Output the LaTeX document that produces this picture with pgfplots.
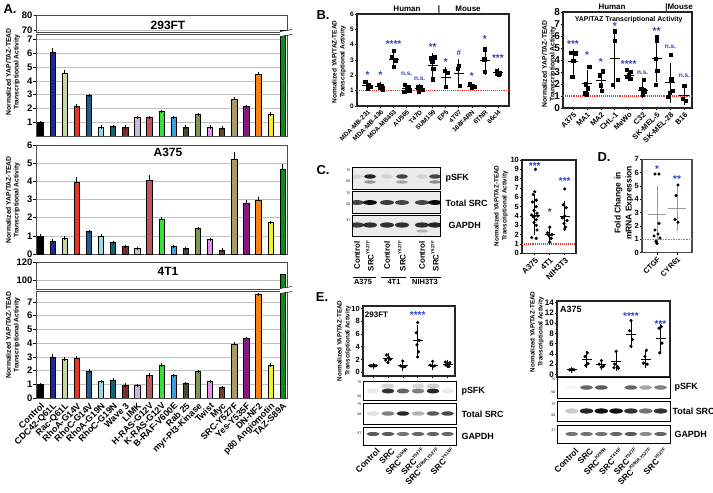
\documentclass[border=0pt]{standalone}
\usepackage{pgfplots}
\pgfplotsset{compat=1.18}
\usepackage{pgfplotstable}
\usepackage{fontspec}
\setmainfont{Liberation Sans}
\newcommand{\fs}[1]{\fontsize{#1}{#1}\selectfont}
\newcommand{\sps}[1]{\raisebox{0.55em}{\fs{4.5}#1}}
\definecolor{c0}{HTML}{000000}
\definecolor{c1}{HTML}{1A2A9C}
\definecolor{c2}{HTML}{C9D6A8}
\definecolor{c3}{HTML}{EE3322}
\definecolor{c4}{HTML}{1F5C96}
\definecolor{c5}{HTML}{98D8E8}
\definecolor{c6}{HTML}{0F6474}
\definecolor{c7}{HTML}{7A2B2B}
\definecolor{c8}{HTML}{C8B9D8}
\definecolor{c9}{HTML}{C25452}
\definecolor{c10}{HTML}{33E633}
\definecolor{c11}{HTML}{3FA0E0}
\definecolor{c12}{HTML}{4B4A32}
\definecolor{c13}{HTML}{7C9A4A}
\definecolor{c14}{HTML}{E890F0}
\definecolor{c15}{HTML}{6B4423}
\definecolor{c16}{HTML}{A99A6A}
\definecolor{c17}{HTML}{821A82}
\definecolor{c18}{HTML}{FA8214}
\definecolor{c19}{HTML}{F8F024}
\definecolor{c20}{HTML}{128A1A}
\definecolor{sblue}{HTML}{2B3CCB}
\definecolor{rdot}{HTML}{E8352B}
\definecolor{blotbg}{HTML}{EBEBEB}

\pgfplotstableread{
v1 e1 v2 e2 v3 e3
1.00 0 1.00 0 1.00 0
6.10 0.15 0.72 0 3.00 0.08
4.55 0.08 0.88 0 2.80 0.05
2.15 0.03 3.95 0.20 2.90 0.05
2.95 0 1.25 0 1.97 0
0.65 0 1.00 0 1.22 0
0.68 0 0.65 0 1.32 0
0.65 0 0.42 0 0.95 0
1.35 0 0.30 0 0.92 0
1.35 0 4.05 0.20 1.68 0
1.78 0 1.92 0.03 2.40 0
1.35 0 0.40 0 1.65 0
0.65 0 0.30 0 1.05 0
1.55 0 1.42 0 1.95 0
0.65 0 0.82 0 1.22 0
0.58 0 0.22 0 0.75 0
2.68 0.03 5.20 0.30 3.95 0
2.15 0 2.78 0.08 4.35 0
4.50 0.05 2.95 0.10 7.55 0
1.60 0 1.75 0 2.40 0
69.9 0.3 4.65 0.20 106 0.5
}\tabA

\pgfplotsset{
  Aax/.style={scale only axis, width=251bp, xmin=-0.36, xmax=20.36,
    axis line style={gray!60!black, line width=0.6pt},
    ymajorgrids, grid style={gray!50, line width=0.5pt},
    xtick=\empty, ytick pos=left, tick align=outside, major tick length=2.5bp,
    tick style={black, line width=0.5pt},
    yticklabel style={font=\bfseries\fs{9.5}, inner sep=1pt},
    /pgf/number format/assume math mode=true},
  Bar/.style={ybar, bar width=5.3bp, fill=#1, draw=black, line width=0.6pt},
  Sax/.style={scale only axis, axis line style={black!85, line width=1.1pt},
    tick align=outside, major tick length=2bp, xtick pos=bottom, ytick pos=left,
    tick style={black, line width=0.6pt}, clip=false,
    /pgf/number format/assume math mode=true},
  sq/.style={only marks, mark=square*, mark size=1.7bp, black},
  ci/.style={only marks, mark=*, mark size=1.4bp, black},
  mn/.style={only marks, mark=-, mark size=#1, black, mark options={line width=0.7pt},
    error bars/.cd, y dir=both, y explicit, error bar style={line width=0.7pt, black},
    error mark options={mark size=2.5bp, line width=0.7pt, black}},
  rline/.style={rdot, densely dotted, line width=1.1pt, forget plot},
}

\newcommand{\Abars}[1]{%
  \pgfplotsinvokeforeach{0,...,20}{%
    \addplot[Bar=c##1, error bars/.cd, y dir=plus, y explicit,
      error bar style={black, line width=0.5pt},
      error mark options={black, mark size=1.6bp, line width=0.5pt}]
      table[x expr=\coordindex, y=v#1, y error=e#1,
        restrict expr to domain={\coordindex}{##1:##1}] {\tabA};
  }%
}
\newcommand{\band}[5]{\fill[black, opacity=#3] (#1bp,-#2bp) ellipse (#4bp and #5bp);}
\newcommand{\stars}[3]{\node[text=sblue, font=\bfseries\fs{10}, inner sep=0pt] at (axis cs:#1,#2) {#3};}
\newcommand{\ns}[2]{\node[text=sblue, font=\bfseries\fs{6.5}, inner sep=0pt] at (axis cs:#1,#2) {n.s.};}
\newcommand{\brk}[1]{%
  \fill[white] (280bp,-#1bp+1.5bp) -- (292bp,-#1bp+3.5bp) -- (292bp,-#1bp-1.5bp) -- (280bp,-#1bp-3.5bp) -- cycle;
  \draw[line width=0.5pt] (280bp,-#1bp+1.5bp) -- (292bp,-#1bp+3.5bp);
  \draw[line width=0.5pt] (280bp,-#1bp-3.5bp) -- (292bp,-#1bp-1.5bp);}

\begin{document}
\begin{tikzpicture}
\path[use as bounding box] (0,0) rectangle (713bp,-493bp);

% ================= Panel A =================
\node[font=\bfseries\fs{13}] at (10bp,-9bp) {A.};
% 293FT
\begin{axis}[Aax, at={(36bp,-15bp)}, anchor=north west, height=17bp, ymin=69, ymax=80, ytick={70,80}]
\addplot[Bar=c20] coordinates {(20,69.9)};
\end{axis}
\begin{axis}[Aax, at={(36bp,-34bp)}, anchor=north west, height=102bp, ymin=0, ymax=7.39, ytick={1,...,7}]
\Abars{1}
\end{axis}
\brk{33}
\node[font=\bfseries\fs{12}] at (168bp,-25bp) {293FT};
\node[rotate=90, align=center, font=\bfseries\fontsize{6.8}{8}\selectfont] at (13bp,-72bp) {Normalized YAP/TAZ-TEAD\\Transcriptional Activity};
% A375
\begin{axis}[Aax, at={(36bp,-145bp)}, anchor=north west, height=109bp, ymin=0, ymax=6, ytick={0,...,6}]
\Abars{2}
\end{axis}
\node[font=\bfseries\fs{12}] at (168bp,-152bp) {A375};
\node[rotate=90, align=center, font=\bfseries\fontsize{6.8}{8}\selectfont] at (13bp,-200bp) {Normalized YAP/TAZ-TEAD\\Transcriptional Activity};
% 4T1
\begin{axis}[Aax, at={(36bp,-262bp)}, anchor=north west, height=27bp, ymin=90, ymax=120, ytick={100,120}]
\addplot[Bar=c20] coordinates {(20,106)};
\end{axis}
\begin{axis}[Aax, at={(36bp,-291bp)}, anchor=north west, height=107bp, ymin=0, ymax=7.8, ytick={0,...,7},
  xtick={0,...,20}, xtick style={draw=none},
  xticklabels={Control,CDC42-Q61L,Rac-Q61L,RhoA-G14V,RhoC-G14V,RhoA-G19N,RhoC-G19N,Wave 3,LIMK,H-RAS-G12V,K-RAS-G12V,B-RAF-V600E,Rab 25,myr-PI3-Kinase,Twist,Myc,SRC-Y527F,Yes-Y535F,DN-NF2,p80 Angiomotin,TAZ-S89A},
  xticklabel style={rotate=45, anchor=north east, font=\bfseries\fs{9}, inner sep=1pt}]
\Abars{3}
\end{axis}
\brk{290}
\node[font=\bfseries\fs{12}] at (168bp,-271bp) {4T1};
\node[rotate=90, align=center, font=\bfseries\fontsize{6.8}{8}\selectfont] at (13bp,-335bp) {Normalized YAP/TAZ-TEAD\\Transcriptional Activity};

% ================= Panel B =================
\node[font=\bfseries\fs{13}] at (323bp,-15bp) {B.};
\begin{axis}[Sax, at={(357bp,-14bp)}, anchor=north west, width=152bp, height=92bp,
  xmin=-0.8, xmax=10.85, ymin=0, ymax=6, ytick={0,...,6},
  xtick={0,...,10}, xticklabels={MDA-MB-231,MDA-MB-436,MDA-MB453,AU565,T47D,SUM159,EP5,4T07,168FARN,6TNR,66cl4},
  xticklabel style={rotate=45, anchor=north east, font=\bfseries\fs{6.5}, inner sep=1pt},
  yticklabel style={font=\bfseries\fs{6.5}, inner sep=1pt}]
\addplot[rline] coordinates {(-0.8,1) (10.85,1)};
\addplot[sq] coordinates {(-0.18,1.58) (0.05,1.38) (0.2,1.25) (0.0,1.17)
 (0.85,1.38) (1.1,1.3) (0.95,1.2) (1.15,1.1)
 (2.0,3.62) (1.85,3.18) (2.15,3.0) (2.0,2.57)
 (2.85,1.37) (3.15,1.25) (3.0,1.1) (2.8,0.95) (3.2,1.0)
 (3.85,1.22) (4.1,1.25) (4.0,1.12) (4.2,1.05) (3.95,0.95)
 (4.85,3.12) (5.15,3.18) (4.95,2.9) (5.05,2.45) (5.0,1.74)
 (5.9,2.31) (6.1,2.18) (6.0,1.26)
 (7.0,2.61) (6.9,2.45) (7.05,1.31)
 (7.85,1.44) (8.05,1.3) (8.2,1.26) (8.0,1.22)
 (9.0,3.7) (8.95,3.05) (9.0,2.24)
 (9.9,2.31) (10.1,2.14) (10.05,2.05) (9.95,2.1)};
\addplot[mn=5bp] coordinates {(0,1.35) +- (0,0.2) (1,1.25) +- (0,0.12) (2,3.05) +- (0,0.45)
 (3,1.15) +- (0,0.18) (4,1.12) +- (0,0.12) (5,2.65) +- (0,0.65) (6,1.85) +- (0,0.55)
 (7,2.13) +- (0,0.77) (8,1.3) +- (0,0.1) (9,2.95) +- (0,0.75) (10,2.17) +- (0,0.14)};
\stars{0}{2.0}{*}\stars{1}{2.0}{*}\stars{2}{4.05}{****}\ns{3}{2.1}\ns{4}{1.78}
\stars{5}{3.85}{**}\stars{6}{2.85}{*}\node[text=sblue, font=\bfseries\fs{8}] at (axis cs:7,3.45) {\#};
\stars{8}{1.95}{*}\stars{9}{4.38}{*}\stars{10}{3.1}{***}
\end{axis}
\node[rotate=90, align=center, font=\bfseries\fontsize{6.5}{8}\selectfont] at (339bp,-62bp) {Normalized YAP/TAZ-TEAD\\Transcriptional Activity};
\node[font=\bfseries\fs{8}] at (407bp,-9bp) {Human};
\node[font=\bfseries\fs{8}] at (439bp,-9bp) {|};
\node[font=\bfseries\fs{8}] at (468bp,-9bp) {Mouse};

\begin{axis}[Sax, at={(563bp,-12bp)}, anchor=north west, width=129bp, height=96bp,
  xmin=-0.72, xmax=8.55, ymin=0, ymax=8, ytick={0,...,8},
  xtick={0,...,8}, xticklabels={A375,MA1,MA2,CHL-1,MeWo,C32,SK-MEL-5,SK-MEL-28,B16},
  xticklabel style={rotate=45, anchor=north east, font=\bfseries\fs{7.5}, inner sep=1pt},
  yticklabel style={font=\bfseries\fs{10}, inner sep=1pt}]
\addplot[rline] coordinates {(-0.72,1) (8.55,1)};
\addplot[sq] coordinates {(-0.15,4.62) (0.05,4.62) (0.2,4.57) (0.0,3.92) (-0.05,2.6)
 (1.15,3.45) (0.9,2.0) (1.05,1.65) (0.85,1.25) (1.0,1.15)
 (2.15,3.08) (1.9,2.75) (2.0,1.9) (2.05,1.45)
 (3.0,6.4) (3.0,5.6) (3.2,2.35) (2.85,1.95)
 (3.85,3.2) (4.15,3.05) (4.0,2.75) (3.9,2.6) (4.1,2.45)
 (5.1,2.35) (4.9,1.6) (5.05,1.5) (5.15,1.4) (5.0,1.1)
 (6.0,5.9) (6.0,5.6) (5.95,4.1) (6.05,3.1) (5.95,1.95)
 (7.0,4.45) (7.05,2.4) (7.15,1.45) (6.95,1.3) (6.85,0.95)
 (8.0,1.85) (7.9,0.8) (8.1,0.6)};
\addplot[mn=5bp] coordinates {(0,3.85) +- (0,0.9) (1,2.05) +- (0,0.95) (2,2.3) +- (0,0.75)
 (3,4.1) +- (0,2.3) (4,2.75) +- (0,0.3) (5,1.5) +- (0,0.45) (6,4.1) +- (0,1.7)
 (7,2.1) +- (0,1.45) (8,1.07) +- (0,0.65)};
\stars{0}{5.35}{***}\stars{1}{4.4}{*}\stars{2}{3.8}{*}\stars{3}{6.8}{*}\stars{4}{3.62}{****}
\ns{5}{2.94}\stars{6}{6.37}{**}\ns{7}{5.08}\ns{8}{2.69}
\node[font=\bfseries\fs{7}] at (axis cs:4,7.35) {YAP/TAZ Transcriptional Activity};
\end{axis}
\node[rotate=90, align=center, font=\bfseries\fontsize{6.8}{8}\selectfont] at (549bp,-64bp) {Normalized YAP/TAZ-TEAD\\Transcriptional Activity};
\node[font=\bfseries\fs{8}] at (612bp,-7bp) {Human};
\node[font=\bfseries\fs{8}] at (679bp,-7bp) {|Mouse};

% ================= Panel C =================
\node[font=\bfseries\fs{13}] at (323bp,-170bp) {C.};
\foreach \ya/\yb in {167.7/189, 191.7/213, 215/236.7}{
  \draw[line width=1pt, fill=blotbg] (352bp,-\ya bp) rectangle (440bp,-\yb bp);}
\begin{scope}
\clip (352bp,-167.7bp) rectangle (440bp,-236.7bp);
\foreach \x/\o in {357/0.08, 370/0.85, 387/0.1, 402/0.7, 422/0.1, 435/0.7}{\band{\x}{176.5}{\o}{6}{2.2}}
\foreach \x/\o in {370/0.35, 402/0.3, 435/0.4}{\band{\x}{182}{\o}{6}{1.6}}
\foreach \x/\o in {357/0.7, 370/0.95, 387/0.75, 402/0.7, 422/0.7, 435/0.95}{\band{\x}{202.5}{\o}{7}{2.4}}
\foreach \x/\o in {357/0.75, 370/0.8, 387/0.8, 402/0.8, 422/0.8, 435/0.85}{\band{\x}{225}{\o}{7}{2.6}}
\band{422}{231}{0.25}{6}{1.5}
\end{scope}
\foreach \y/\t in {170/75, 181/50, 193/75, 204/50, 220/37}{
  \node[font=\fs{3.5}, anchor=east, inner sep=0.5pt] at (351bp,-\y bp) {\t};}
\node[font=\bfseries\fs{9}, anchor=west] at (442bp,-178bp) {pSFK};
\node[font=\bfseries\fs{9}, anchor=west] at (442bp,-203bp) {Total SRC};
\node[font=\bfseries\fs{9}, anchor=west] at (445bp,-225bp) {GAPDH};
\foreach \x/\t in {357/Control, 370/SRC\sps{Y527F}, 387/Control, 402/SRC\sps{Y527F}, 422/Control, 435/SRC\sps{Y527F}}{
  \node[rotate=90, anchor=east, font=\bfseries\fs{8}, inner sep=1pt] at (\x bp,-240bp) {\t};}
\draw[line width=0.6pt] (353bp,-277bp) -- (376bp,-277bp);
\draw[line width=0.6pt] (381bp,-277bp) -- (406bp,-277bp);
\draw[line width=0.6pt] (410bp,-277bp) -- (441bp,-277bp);
\node[font=\bfseries\fs{7.5}] at (363bp,-282bp) {A375};
\node[font=\bfseries\fs{7.5}] at (394bp,-282bp) {4T1};
\node[font=\bfseries\fs{7.5}] at (425bp,-282bp) {NIH3T3};

\begin{axis}[Sax, at={(522bp,-160bp)}, anchor=north west, width=54bp, height=93.3bp,
  xmin=-0.85, xmax=2.75, ymin=0, ymax=10, ytick={0,...,10},
  xtick={0,1,2}, xticklabels={A375,4T1,NIH3T3},
  xticklabel style={rotate=45, anchor=north east, font=\bfseries\fs{8}, inner sep=1pt},
  yticklabel style={font=\bfseries\fs{7.5}, inner sep=1pt}]
\addplot[rline] coordinates {(-0.85,1) (2.75,1)};
\addplot[ci] coordinates {(0.05,9.0) (0.0,6.6) (-0.1,6.3) (0.1,5.7) (-0.15,5.5) (0.1,5.0)
 (-0.05,4.6) (0.15,4.3) (-0.2,4.1) (0.0,4.0) (0.2,4.0) (-0.1,3.9) (0.1,3.6) (-0.05,3.3)
 (0.1,3.0) (0.15,2.5) (-0.2,1.7) (0.1,1.6)
 (1.0,2.8) (0.85,2.2) (1.15,2.0) (0.95,1.9) (1.1,1.6) (1.0,1.2)
 (2.0,6.9) (1.9,5.2) (2.1,4.9) (2.0,4.0) (1.85,3.8) (2.15,3.5) (1.95,3.2) (2.05,2.8) (2.0,2.6)};
\addplot[mn=5bp] coordinates {(0,4.1) +- (0,1.9) (1,2.0) +- (0,0.7) (2,4.0) +- (0,1.3)};
\stars{0}{9.35}{***}
\node[text=black!75, font=\bfseries\fs{10}, inner sep=0pt] at (axis cs:1,4.4) {*};
\stars{2}{7.7}{***}
\end{axis}
\node[rotate=90, align=center, font=\bfseries\fontsize{6.3}{8}\selectfont] at (501bp,-206bp) {Normalized YAP/TAZ-TEAD\\Transcriptional Activity};

% ================= Panel D =================
\node[font=\bfseries\fs{13}] at (604bp,-157bp) {D.};
\begin{axis}[Sax, at={(642bp,-159.3bp)}, anchor=north west, width=50bp, height=93.4bp,
  xmin=-0.75, xmax=1.75, ymin=0, ymax=7, ytick={0,...,7},
  axis line style={black!70, line width=1.1pt},
  xtick={0,1}, xticklabels={CTGF,CYR61},
  xticklabel style={rotate=45, anchor=north east, font=\bfseries\fs{7.5}, inner sep=1pt},
  yticklabel style={font=\bfseries\fs{7.5}, inner sep=1pt}]
\addplot[rline, line width=1.6pt, rdot!80] coordinates {(-0.75,1) (1.75,1)};
\addplot[ci] coordinates {(-0.1,5.9) (0.1,5.9) (0.1,2.2) (-0.1,1.7) (0.05,1.4) (-0.15,1.25) (0.15,1.1) (-0.05,0.85) (0.0,0.7)
 (1.05,5.07) (0.95,4.28) (0.9,2.5) (1.05,2.28)};
\addplot[only marks, mark=-, mark size=9bp, gray!80, mark options={line width=0.7pt},
  error bars/.cd, y dir=both, y explicit, error bar style={line width=0.7pt, gray!80},
  error mark options={mark size=3bp, line width=0.7pt, gray!80}]
  coordinates {(0,2.85) +- (0,1.95) (1,3.3) +- (0,1.45)};
\stars{0}{6.3}{*}\stars{1}{5.5}{**}
\end{axis}
\node[rotate=90, align=center, font=\bfseries\fontsize{8.5}{11}\selectfont] at (624bp,-203bp) {Fold Change in\\mRNA Expression};

% ================= Panel E =================
\node[font=\bfseries\fs{13}] at (322bp,-297bp) {E.};
\begin{axis}[Sax, at={(363bp,-306bp)}, anchor=north west, width=92bp, height=70bp,
  xmin=-0.67, xmax=5.5, ymin=-0.6, ymax=10.4, ytick={0,2,...,10},
  xtick={0,...,5}, xticklabels={},
  yticklabel style={font=\bfseries\fs{7.5}, inner sep=1pt}]
\addplot[ci] coordinates {(-0.2,1) (-0.1,1) (0,1) (0.1,1) (0.2,1)
 (0.9,2.7) (1.05,2.3) (1.15,2.0) (0.85,1.9) (1.0,1.5)
 (2.0,1.75) (1.85,1.0) (2.15,0.85) (2.0,0.8)
 (3.0,7.8) (2.9,6.2) (3.1,5.0) (2.95,4.3) (3.05,3.2) (3.0,2.4)
 (4.0,1.7) (3.85,1.1) (4.15,1.0) (4.0,0.9)
 (4.85,1.6) (5.15,1.5) (5.0,1.3) (4.9,1.1) (5.1,0.9)};
\addplot[mn=5bp] coordinates {(0,1) +- (0,0.03) (1,2.1) +- (0,0.45) (2,1.1) +- (0,0.45)
 (3,5.0) +- (0,2.0) (4,1.15) +- (0,0.35) (5,1.3) +- (0,0.3)};
\stars{3}{9.0}{****}
\node[anchor=west, font=\bfseries\fs{8}, inner sep=0pt] at (axis cs:-0.55,9.1) {293FT};
\end{axis}
\node[rotate=90, align=center, font=\bfseries\fontsize{6.3}{8}\selectfont] at (344bp,-341bp) {Normalized YAP/TAZ-TEAD\\Transcriptional Activity};
\foreach \ya/\yb in {381/400, 403/424, 427/445}{
  \draw[line width=1pt, fill=white] (363bp,-\ya bp) rectangle (456bp,-\yb bp);}
\begin{scope}
\clip (363bp,-381bp) rectangle (456bp,-445bp);
\foreach \x/\o in {373/0.08, 388/0.8, 403/0.6, 418/0.5, 433/0.85, 447.5/0.08}{\band{\x}{391}{\o}{6.5}{2.4}}
\foreach \x/\o in {388/0.15, 418/0.15, 433/0.2}{\band{\x}{386}{\o}{6.5}{2.5}}
\foreach \x/\o in {373/0.12, 388/0.5, 403/0.85, 418/0.3, 433/0.65, 447.5/0.7}{\band{\x}{413.5}{\o}{6.5}{2.2}}
\foreach \x/\o in {373/0.65, 388/0.65, 403/0.55, 418/0.6, 433/0.6, 447.5/0.6}{\band{\x}{434}{\o}{6.5}{2}}
\end{scope}
\foreach \y/\t in {382/75, 396/50, 404/75, 414/50, 433/37}{
  \node[font=\fs{3.5}, anchor=east, inner sep=0.5pt] at (362bp,-\y bp) {\t};}
\node[font=\bfseries\fs{9}, anchor=west] at (458bp,-391bp) {pSFK};
\node[font=\bfseries\fs{9}, anchor=west] at (458bp,-414bp) {Total SRC};
\node[font=\bfseries\fs{9}, anchor=west] at (458bp,-436bp) {GAPDH};
\foreach \x/\t in {373/Control, 388/SRC, 403/SRC\sps{K295R}, 418/SRC\sps{Y527F}, 433/SRC\sps{K295R,Y527F}, 447.5/SRC\sps{Y416F}}{
  \node[rotate=45, anchor=north east, font=\bfseries\fs{8.5}, inner sep=1pt] at (\x bp+3bp,-446bp) {\t};}

\begin{axis}[Sax, at={(557bp,-301bp)}, anchor=north west, width=113bp, height=76bp,
  xmin=-1.0, xmax=6.64, ymin=-0.5, ymax=14.3, ytick={0,2,...,14},
  xtick={0,...,6}, xticklabels={},
  yticklabel style={font=\bfseries\fs{8}, inner sep=1pt}]
\addplot[ci] coordinates {(-0.15,0.9) (-0.05,0.9) (0.05,0.9) (0.15,0.9)
 (1.05,4.2) (0.9,3.5) (1.1,2.1) (0.95,1.8)
 (2.0,2.7) (1.85,2.0) (2.15,1.6) (2.0,1.4)
 (3.0,4.5) (2.9,2.0) (3.1,1.5) (2.85,1.3) (3.15,1.2)
 (4.0,10.5) (3.9,8.5) (4.1,6.8) (4.0,5.5)
 (5.05,4.7) (4.95,3.5) (4.85,2.2) (5.1,2.0)
 (6.05,9.3) (5.9,9.0) (6.1,6.1) (5.95,4.2)};
\addplot[mn=5bp] coordinates {(0,0.9) +- (0,0.05) (1,2.9) +- (0,1.2) (2,1.9) +- (0,0.6)
 (3,2.5) +- (0,1.3) (4,7.8) +- (0,2.2) (5,3.0) +- (0,1.3) (6,7.1) +- (0,2.3)};
\stars{4}{11.3}{****}\stars{6}{9.8}{***}
\node[anchor=west, font=\bfseries\fs{9}, inner sep=0pt] at (axis cs:-0.8,12.6) {A375};
\end{axis}
\node[rotate=90, align=center, font=\bfseries\fontsize{6.3}{8}\selectfont] at (537bp,-332bp) {Normalized YAP/TAZ-TEAD\\Transcriptional Activity};
\foreach \ya/\yb in {377/398, 401.5/421.5, 425/443}{
  \draw[line width=1pt, fill=white] (557bp,-\ya bp) rectangle (670bp,-\yb bp);}
\begin{scope}
\clip (557bp,-377bp) rectangle (670bp,-443bp);
\foreach \x/\o in {571.7/0.03, 586.5/0.6, 601.3/0.65, 616.1/0.0, 630.9/0.6, 645.7/0.35, 660.5/0.5}{\band{\x}{387.5}{\o}{6.5}{2.2}}
\foreach \x/\o in {571.7/0.2, 586.5/0.85, 601.3/0.95, 616.1/0.95, 630.9/0.8, 645.7/0.55, 660.5/0.8}{\band{\x}{411}{\o}{6.8}{2.6}}
\foreach \x/\o in {571.7/0.55, 586.5/0.55, 601.3/0.55, 616.1/0.6, 630.9/0.65, 645.7/0.45, 660.5/0.6}{\band{\x}{434}{\o}{6.5}{2}}
\end{scope}
\foreach \y/\t in {379/75, 392/50, 404/75, 415/50, 430/37}{
  \node[font=\fs{3.5}, anchor=east, inner sep=0.5pt] at (556bp,-\y bp) {\t};}
\node[font=\bfseries\fs{9}, anchor=west] at (671bp,-387bp) {pSFK};
\node[font=\bfseries\fs{9}, anchor=west] at (669bp,-411bp) {Total SRC};
\node[font=\bfseries\fs{9}, anchor=west] at (671bp,-434bp) {GAPDH};
\foreach \x/\t in {571.7/Control, 586.5/SRC, 601.3/SRC\sps{K295R}, 616.1/SRC\sps{Y416F}, 630.9/SRC\sps{Y527F}, 645.7/SRC\sps{K295R,Y527F}, 660.5/SRC\sps{Y527F}}{
  \node[rotate=45, anchor=north east, font=\bfseries\fs{8.5}, inner sep=1pt] at (\x bp+3bp,-446bp) {\t};}
\end{tikzpicture}
\end{document}
